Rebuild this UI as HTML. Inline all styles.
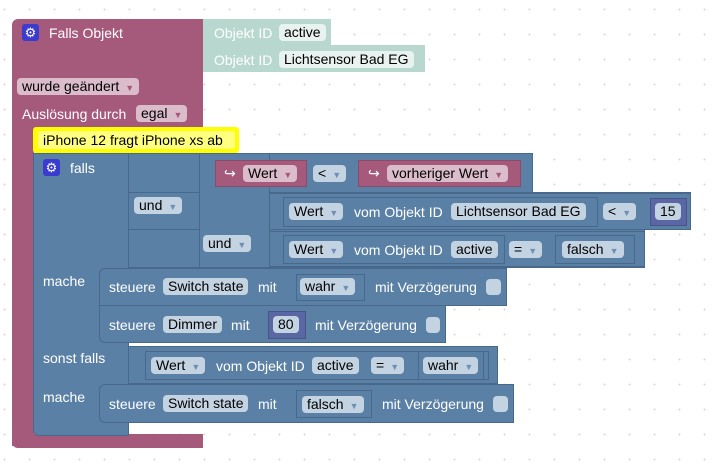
<!DOCTYPE html>
<html><head><meta charset="utf-8"><style>
body{margin:0;width:712px;height:469px;overflow:hidden;background:#fff;
background-image:radial-gradient(circle,#d8d8d8 0.8px,transparent 1.2px);background-size:25px 25px;background-position:-8px -3px;
font-family:"Liberation Sans",sans-serif;font-size:14px;}
.a{position:absolute;box-sizing:border-box}
.m{background:#a5597b}
.b{background:#5b80a5;border:1px solid #49698c}
.t{background:#b8d8cf}
.n{background:#5b67a5;border:1px solid #4a548c}
.tx{position:absolute;color:#fff;white-space:nowrap;line-height:16px}
.f{position:absolute;background:#c4d3e2;color:#000;border-radius:4px;height:17px;line-height:17px;padding:0 5px;white-space:nowrap;box-sizing:border-box}
.fp{background:#dbbccb}
.ft{background:#e8f2ef}
.ar{color:#6d8fb3;font-size:9px;margin-left:6px}
.fp .ar{color:#a5597b}
.gear{position:absolute;width:17px;height:17px;background:#3b3bd0;border-radius:3px;color:#fff;font-size:13px;line-height:17px;text-align:center}
</style></head><body>
<div class="a m" style="left:12px;top:19px;width:191px;height:110px;border-radius:6px 0 0 0"></div>
<div class="a m" style="left:12px;top:120px;width:22px;height:326px"></div>
<div class="a m" style="left:12px;top:434px;width:191px;height:14px;border-radius:0 0 0 6px"></div>
<div class="gear" style="left:22px;top:24px">⚙</div>
<div class="tx" style="left:49px;top:25px">Falls Objekt</div>
<div class="a t" style="left:203px;top:19px;width:128px;height:26px"></div>
<div class="a t" style="left:203px;top:45px;width:222px;height:27px"></div>
<div class="tx" style="left:214px;top:25px">Objekt ID</div>
<div class="f ft" style="left:279px;top:24px">active</div>
<div class="tx" style="left:214px;top:52px">Objekt ID</div>
<div class="f ft" style="left:279px;top:51px">Lichtsensor Bad EG</div>
<div class="f fp" style="left:17px;top:78px">wurde geändert<span class="ar">▼</span></div>
<div class="tx" style="left:22px;top:106px">Auslösung durch</div>
<div class="f fp" style="left:136px;top:105px">egal<span class="ar">▼</span></div>
<div class="a b" style="left:33px;top:153px;width:96px;height:283px;border-radius:0 0 0 6px"></div>
<div class="a b" style="left:128px;top:153px;width:405px;height:40px"></div>
<div class="a b" style="left:128px;top:192px;width:563px;height:38px"></div>
<div class="a b" style="left:128px;top:229px;width:517px;height:39px"></div>
<div class="a b" style="left:199px;top:153px;width:71px;height:115px"></div>
<div class="a" style="left:200px;top:191px;width:69px;height:76px;background:#5b80a5"></div>
<div class="a" style="left:33px;top:127px;width:206px;height:26px;background:#ff0;border-radius:3px"></div>
<div class="a" style="left:38px;top:131px;width:197px;height:18px;background:#ffff80;border-radius:3px"></div>
<div class="tx" style="left:43px;top:132px;color:#000">iPhone 12 fragt iPhone xs ab</div>
<div class="gear" style="left:43px;top:159px">⚙</div>
<div class="tx" style="left:70px;top:160px">falls</div>
<div class="f" style="left:134px;top:197px">und<span class="ar">▼</span></div>
<div class="f" style="left:203px;top:235px">und<span class="ar">▼</span></div>
<div class="a m" style="left:215px;top:160px;width:92px;height:27px;border:1px solid #8c4a68"></div>
<div class="tx" style="left:224px;top:165px">↪</div>
<div class="f fp" style="left:243px;top:165px">Wert<span class="ar">▼</span></div>
<div class="f" style="left:313px;top:165px">&lt;<span class="ar">▼</span></div>
<div class="a m" style="left:358px;top:160px;width:163px;height:27px;border:1px solid #8c4a68"></div>
<div class="tx" style="left:368px;top:165px">↪</div>
<div class="f fp" style="left:387px;top:165px">vorheriger Wert<span class="ar">▼</span></div>
<div class="a b" style="left:269px;top:193px;width:422px;height:37px"></div>
<div class="a b" style="left:283px;top:197px;width:315px;height:30px"></div>
<div class="f" style="left:289px;top:203px">Wert<span class="ar">▼</span></div>
<div class="tx" style="left:354px;top:204px">vom Objekt ID</div>
<div class="f" style="left:451px;top:203px">Lichtsensor Bad EG</div>
<div class="f" style="left:603px;top:203px">&lt;<span class="ar">▼</span></div>
<div class="a n" style="left:650px;top:198px;width:37px;height:28px"></div>
<div class="f" style="left:655px;top:203px">15</div>
<div class="a b" style="left:269px;top:231px;width:376px;height:36px"></div>
<div class="a b" style="left:283px;top:235px;width:222px;height:29px"></div>
<div class="f" style="left:289px;top:241px">Wert<span class="ar">▼</span></div>
<div class="tx" style="left:354px;top:242px">vom Objekt ID</div>
<div class="f" style="left:451px;top:241px">active</div>
<div class="f" style="left:509px;top:241px">=<span class="ar">▼</span></div>
<div class="a b" style="left:555px;top:235px;width:80px;height:29px"></div>
<div class="f" style="left:562px;top:241px">falsch<span class="ar">▼</span></div>
<div class="tx" style="left:43px;top:273px">mache</div>
<div class="a b" style="left:99px;top:268px;width:408px;height:38px;border-radius:6px 0 0 0"></div>
<div class="tx" style="left:109px;top:279px">steuere</div>
<div class="f" style="left:163px;top:278px">Switch state</div>
<div class="tx" style="left:258px;top:279px">mit</div>
<div class="a b" style="left:296px;top:274px;width:69px;height:27px"></div>
<div class="f" style="left:300px;top:278px">wahr<span class="ar">▼</span></div>
<div class="tx" style="left:375px;top:279px">mit Verzögerung</div>
<div class="a" style="left:486px;top:279px;width:15px;height:16px;background:#c4d3e2;border-radius:4px"></div>
<div class="a b" style="left:99px;top:305px;width:347px;height:38px;border-radius:0 0 0 6px"></div>
<div class="tx" style="left:109px;top:317px">steuere</div>
<div class="f" style="left:163px;top:316px">Dimmer</div>
<div class="tx" style="left:231px;top:317px">mit</div>
<div class="a n" style="left:268px;top:311px;width:38px;height:28px"></div>
<div class="f" style="left:273px;top:316px">80</div>
<div class="tx" style="left:315px;top:317px">mit Verzögerung</div>
<div class="a" style="left:426px;top:317px;width:14px;height:16px;background:#c4d3e2;border-radius:4px"></div>
<div class="tx" style="left:43px;top:350px">sonst falls</div>
<div class="a b" style="left:128px;top:346px;width:370px;height:38px"></div>
<div class="a b" style="left:145px;top:351px;width:344px;height:29px"></div>
<div class="f" style="left:151px;top:357px">Wert<span class="ar">▼</span></div>
<div class="tx" style="left:216px;top:358px">vom Objekt ID</div>
<div class="f" style="left:312px;top:357px">active</div>
<div class="f" style="left:371px;top:357px">=<span class="ar">▼</span></div>
<div class="a b" style="left:418px;top:351px;width:66px;height:29px"></div>
<div class="f" style="left:423px;top:357px">wahr<span class="ar">▼</span></div>
<div class="tx" style="left:43px;top:389px">mache</div>
<div class="a b" style="left:99px;top:384px;width:415px;height:39px;border-radius:6px 0 0 6px"></div>
<div class="tx" style="left:109px;top:396px">steuere</div>
<div class="f" style="left:163px;top:395px">Switch state</div>
<div class="tx" style="left:258px;top:396px">mit</div>
<div class="a b" style="left:296px;top:390px;width:76px;height:28px"></div>
<div class="f" style="left:302px;top:396px">falsch<span class="ar">▼</span></div>
<div class="tx" style="left:382px;top:396px">mit Verzögerung</div>
<div class="a" style="left:493px;top:396px;width:15px;height:16px;background:#c4d3e2;border-radius:4px"></div>
</body></html>
